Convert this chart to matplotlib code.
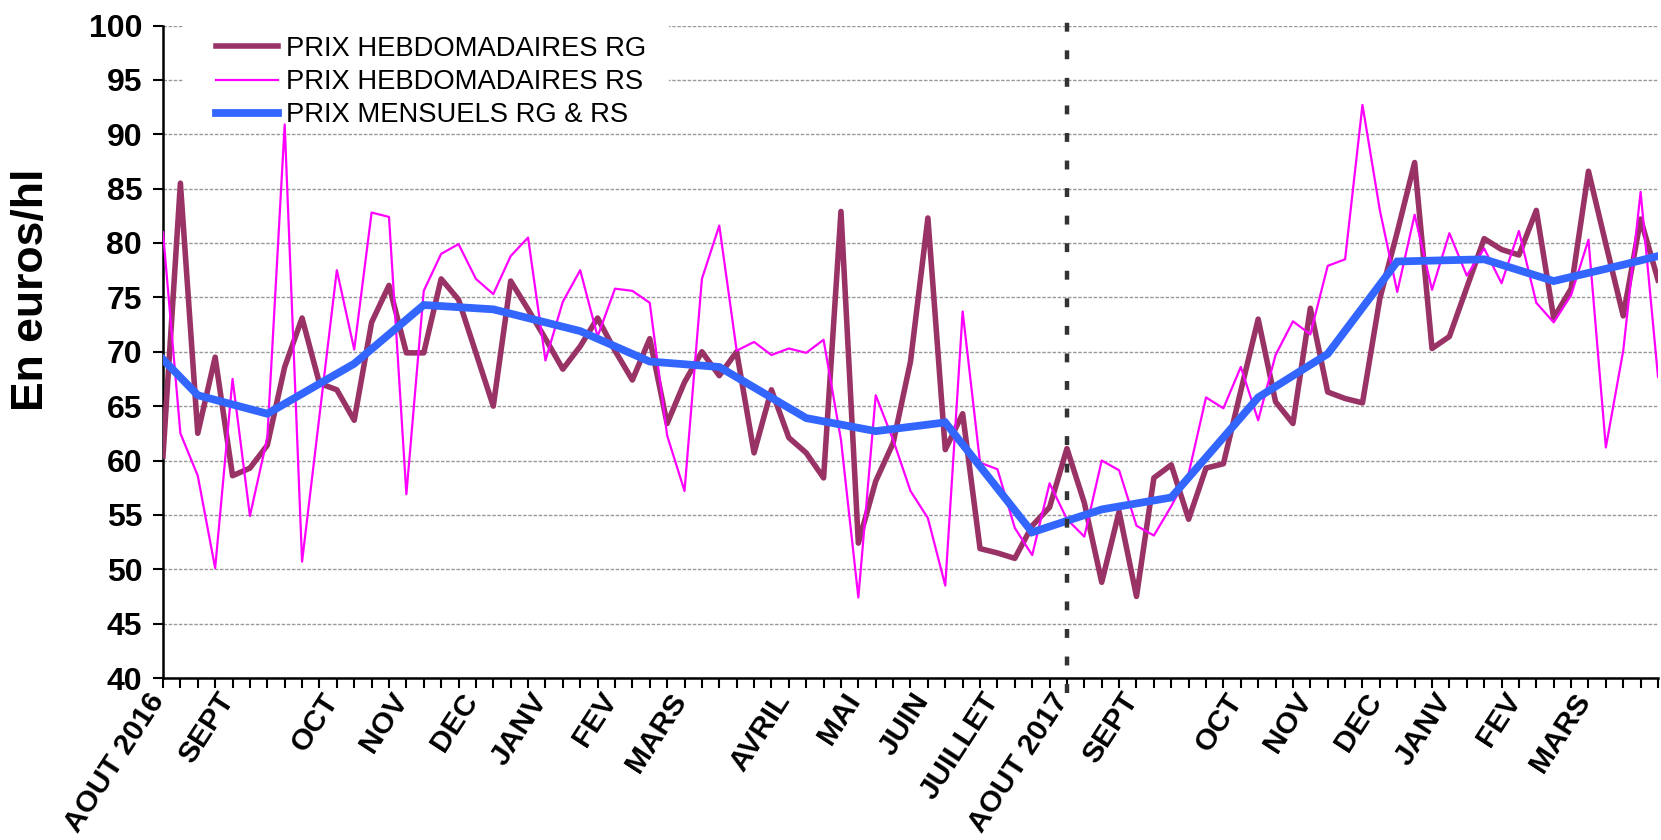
import matplotlib
matplotlib.use("Agg")
import matplotlib.pyplot as plt
from matplotlib.patches import Rectangle
from matplotlib.transforms import ScaledTranslation

plt.rcParams['font.family'] = ['Liberation Sans', 'DejaVu Sans']

# weekly prices, week 0 = first week of Aug 2016
prix_rg = [60.4, 85.5, 62.5, 69.5, 58.6, 59.3, 61.4, 68.6, 73.1, 67.1,
           66.5, 63.7, 72.7, 76.1, 69.9, 69.9, 76.7, 74.8, 69.9, 65.0,
           76.5, 73.9, 71.2, 68.4, 70.5, 73.1, 70.1, 67.4, 71.2, 63.4,
           67.2, 70.0, 67.8, 70.0, 60.7, 66.5, 62.1, 60.7, 58.4, 82.9,
           52.4, 58.1, 61.6, 69.1, 82.3, 61.0, 64.3, 51.9, 51.5, 51.0,
           54.0, 55.7, 61.1, 56.1, 48.8, 55.3, 47.5, 58.4, 59.6, 54.6,
           59.3, 59.7, 66.4, 73.0, 65.4, 63.4, 74.0, 66.3, 65.7, 65.3,
           74.9, 81.0, 87.4, 70.3, 71.4, 75.9, 80.4, 79.4, 78.9, 83.0,
           73.1, 75.8, 86.6, 79.9, 73.3, 82.2, 76.6]
prix_rs = [81.0, 62.5, 58.6, 50.1, 67.5, 54.9, 62.1, 90.9, 50.7, 64.1,
           77.5, 70.2, 82.8, 82.4, 56.9, 75.6, 79.0, 79.9, 76.7, 75.3,
           78.8, 80.5, 69.2, 74.6, 77.5, 71.4, 75.8, 75.6, 74.5, 62.3,
           57.2, 76.7, 81.6, 70.1, 70.9, 69.7, 70.3, 69.9, 71.1, 61.9,
           47.4, 66.0, 61.9, 57.2, 54.7, 48.5, 73.7, 59.8, 59.2, 53.8,
           51.3, 57.9, 54.6, 53.0, 60.0, 59.1, 54.0, 53.1, 55.8, 58.8,
           65.8, 64.8, 68.6, 63.7, 69.7, 72.8, 71.6, 77.9, 78.5, 92.7,
           83.0, 75.5, 82.6, 75.7, 80.9, 77.0, 79.5, 76.3, 81.1, 74.5,
           72.7, 75.2, 80.3, 61.2, 70.1, 84.7, 67.7]
semaines = list(range(len(prix_rg)))

# monthly prices (placed at mid-month week)
sem_mois = [0, 2, 6, 11, 15, 19, 24, 28, 32, 37, 41, 45, 50, 54, 58,
            63, 67, 71, 76, 80, 84, 86]
prix_mois = [69.3, 66.0, 64.3, 68.9, 74.3, 73.9, 71.9, 69.1, 68.6, 63.9,
             62.7, 63.5, 53.4, 55.5, 56.6, 65.8, 69.8, 78.3, 78.5, 76.5,
             78.0, 78.8]

# month labels on the x axis
sem_labels = [0, 4, 10, 14, 18, 22, 26, 30, 36, 40, 44, 48, 52,
              56, 62, 66, 70, 74, 78, 82]
mois_labels = ['AOUT 2016', 'SEPT', 'OCT', 'NOV', 'DEC', 'JANV', 'FEV',
               'MARS', 'AVRIL', 'MAI', 'JUIN', 'JUILLET', 'AOUT 2017',
               'SEPT', 'OCT', 'NOV', 'DEC', 'JANV', 'FEV', 'MARS']
sem_separation = 52

fig = plt.figure(figsize=(16.61, 8.40), dpi=100)
ax = fig.add_axes([163/1661, 1-678/840, 1495/1661, 652.5/840])

ax.plot(semaines, prix_rg, color='#993366', lw=4.0, label='PRIX HEBDOMADAIRES RG', zorder=3)
ax.plot(semaines, prix_rs, color='#FF00FF', lw=1.6, label='PRIX HEBDOMADAIRES RS', zorder=4)
ax.plot(sem_mois, prix_mois, color='#3366FF', lw=5.6, label='PRIX MENSUELS RG & RS',
        zorder=5, solid_joinstyle='miter')

ax.axvline(sem_separation, ymin=-0.023, ymax=1.025, color='#333333', lw=3.2,
           linestyle=(0, (2, 4.2)), clip_on=False, zorder=6)

ax.set_xlim(0, 86)
ax.set_ylim(40, 100)
ax.set_yticks(range(40, 101, 5))
ax.tick_params(axis='y', direction='out', length=7, width=1.5, pad=8, labelsize=23)
for lab in ax.get_yticklabels():
    lab.set_fontweight('bold')

labels = [''] * len(semaines)
for s, m in zip(sem_labels, mois_labels):
    labels[s] = m
ax.set_xticks(semaines)
ax.set_xticklabels(labels, rotation=57, ha='right', va='center', rotation_mode='anchor',
                   fontsize=21.5, fontweight='bold')
ax.tick_params(axis='x', direction='out', length=7, width=1.5, pad=7)
for lab in ax.get_xticklabels():
    lab.set_transform(lab.get_transform() + ScaledTranslation(-0.045, 0.02, fig.dpi_scale_trans))

ax.grid(axis='y', color='#999999', lw=1.0, linestyle=(0, (2.5, 1.2)))
ax.set_axisbelow(True)
for s in ['top', 'right']:
    ax.spines[s].set_visible(False)
for s in ['left', 'bottom']:
    ax.spines[s].set_linewidth(1.8)

# white area behind the legend hides the grid
ax.add_patch(Rectangle((1.15, 90.85), 27.95, 10.5, facecolor='white', edgecolor='none',
                       zorder=1, clip_on=False))
leg = ax.legend(loc='upper left', bbox_to_anchor=(216/1661, 1-36/840),
                bbox_transform=fig.transFigure, frameon=False, fontsize=19.7,
                borderpad=0, borderaxespad=0, handlelength=2.27, handletextpad=0.3,
                labelspacing=0.26)

fig.text(31.5/1661, 1-290/840, 'En euros/hl', rotation=90, ha='center', va='center',
         fontsize=32, fontweight='bold')

fig.savefig('out.png', dpi=100)
